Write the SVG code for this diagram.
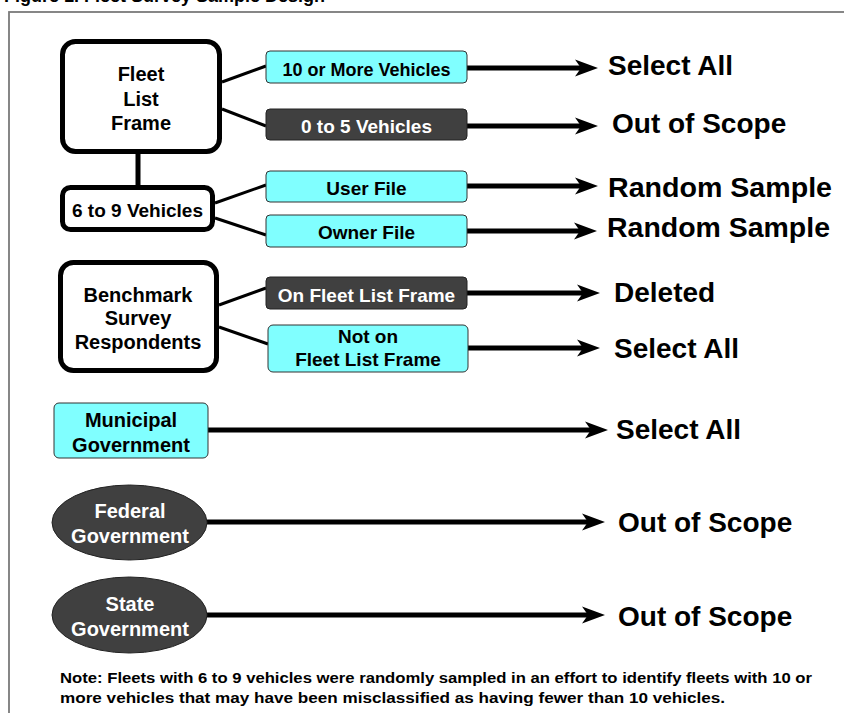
<svg xmlns="http://www.w3.org/2000/svg" width="844" height="713" viewBox="0 0 844 713">
<style>
text{font-family:"Liberation Sans",Arial,Helvetica,sans-serif;font-weight:bold;}
.main{fill:#fff;stroke:#000;stroke-width:5;}
.cyan{fill:#80ffff;stroke:#333;stroke-width:1;}
.dark{fill:#404040;stroke:#222;stroke-width:1;}
.t20{font-size:20px;text-anchor:middle;fill:#000;}
.t19{font-size:19px;text-anchor:middle;fill:#000;}
.w19{font-size:19px;text-anchor:middle;fill:#fff;}
.w20{font-size:20px;text-anchor:middle;fill:#fff;}
.res{font-size:28px;fill:#000;}
.link{stroke:#000;stroke-width:3;fill:none;}
.arr{stroke:#000;stroke-width:5;fill:none;marker-end:url(#ah);}
.note{font-size:14px;fill:#000;}
</style>
<defs>
<marker id="ah" markerUnits="userSpaceOnUse" markerWidth="30" markerHeight="20" viewBox="-1 -10 30 20" refX="6" refY="0" orient="auto" overflow="visible">
<path d="M0,-8.5 L23,0 L0,8.5 L6,0 Z" fill="#000"/>
</marker>
</defs>
<rect width="844" height="713" fill="#fff"/>
<text x="4" y="2" style="font-size:18px;fill:#000">Figure 1. Fleet Survey Sample Design</text>
<rect x="9" y="12" width="900" height="800" fill="none" stroke="#7a7a7a" stroke-width="1.8"/>

<g id="connectors">
<line class="link" x1="138" y1="154" x2="138" y2="186" style="stroke-width:5"/>
<line class="link" x1="222" y1="82" x2="266" y2="66"/>
<line class="link" x1="222" y1="109" x2="266" y2="126"/>
<line class="link" x1="215" y1="203" x2="266" y2="185"/>
<line class="link" x1="215" y1="218" x2="266" y2="235"/>
<line class="link" x1="219" y1="305" x2="266" y2="288"/>
<line class="link" x1="219" y1="327" x2="268" y2="344"/>
<line class="arr" x1="467" y1="68" x2="581" y2="68"/>
<line class="arr" x1="467" y1="126" x2="581" y2="126"/>
<line class="arr" x1="467" y1="186" x2="581" y2="186"/>
<line class="arr" x1="467" y1="231" x2="580" y2="231"/>
<line class="arr" x1="467" y1="293" x2="583" y2="293"/>
<line class="arr" x1="468" y1="348" x2="583" y2="348"/>
<line class="arr" x1="208" y1="430" x2="591" y2="430"/>
<line class="arr" x1="207" y1="522" x2="588" y2="522"/>
<line class="arr" x1="207" y1="615" x2="588" y2="615"/>
</g>

<g id="fleet-list-frame">
<rect class="main" x="62.5" y="41.5" width="157" height="110" rx="13"/>
<text class="t20" x="141" y="81">Fleet</text>
<text class="t20" x="141" y="106">List</text>
<text class="t20" x="141" y="130">Frame</text>
</g>
<g id="six-to-nine">
<rect class="main" x="62.5" y="187.5" width="150" height="42" rx="8"/>
<text class="t19" x="137.5" y="217">6 to 9 Vehicles</text>
</g>
<g id="ten-or-more">
<rect class="cyan" x="266" y="51" width="201" height="32" rx="4"/>
<text class="t19" x="366.5" y="76" style="font-size:18px">10 or More Vehicles</text>
</g>
<g id="zero-to-five">
<rect class="dark" x="266" y="109" width="201" height="31" rx="4"/>
<text class="w19" x="366.5" y="133">0 to 5 Vehicles</text>
</g>
<g id="user-file">
<rect class="cyan" x="266" y="171" width="201" height="31" rx="4"/>
<text class="t19" x="366.5" y="195">User File</text>
</g>
<g id="owner-file">
<rect class="cyan" x="266" y="215" width="201" height="32" rx="4"/>
<text class="t19" x="366.5" y="239">Owner File</text>
</g>
<g id="benchmark">
<rect class="main" x="60.5" y="262.5" width="156" height="108" rx="13"/>
<text class="t20" x="138" y="302">Benchmark</text>
<text class="t20" x="138" y="325">Survey</text>
<text class="t20" x="138" y="349">Respondents</text>
</g>
<g id="on-frame">
<rect class="dark" x="266" y="277" width="201" height="32" rx="4"/>
<text class="w19" x="366.5" y="302">On Fleet List Frame</text>
</g>
<g id="not-on-frame">
<rect class="cyan" x="268" y="325" width="200" height="47" rx="5"/>
<text class="t19" x="368" y="343">Not on</text>
<text class="t19" x="368" y="366">Fleet List Frame</text>
</g>
<g id="municipal">
<rect class="cyan" x="54" y="403" width="154" height="55" rx="5"/>
<text class="t20" x="131" y="427">Municipal</text>
<text class="t20" x="131" y="452">Government</text>
</g>
<g id="federal">
<ellipse class="dark" cx="129.5" cy="522.5" rx="77.5" ry="37.5"/>
<text class="w20" x="130" y="518">Federal</text>
<text class="w20" x="130" y="543">Government</text>
</g>
<g id="state">
<ellipse class="dark" cx="129.5" cy="615" rx="77.5" ry="38"/>
<text class="w20" x="130" y="611">State</text>
<text class="w20" x="130" y="636">Government</text>
</g>

<g id="results">
<text class="res" x="608" y="75">Select All</text>
<text class="res" x="612" y="133">Out of Scope</text>
<text class="res" x="608" y="197" textLength="224" lengthAdjust="spacingAndGlyphs">Random Sample</text>
<text class="res" x="607" y="237" textLength="223" lengthAdjust="spacingAndGlyphs">Random Sample</text>
<text class="res" x="614" y="302">Deleted</text>
<text class="res" x="614" y="358">Select All</text>
<text class="res" x="616" y="439">Select All</text>
<text class="res" x="618" y="532">Out of Scope</text>
<text class="res" x="618" y="626">Out of Scope</text>
</g>

<g id="note">
<text class="note" x="60" y="683" textLength="752" lengthAdjust="spacingAndGlyphs">Note:  Fleets with 6 to 9 vehicles were randomly sampled in an effort to identify fleets with 10 or</text>
<text class="note" x="60" y="703" textLength="665" lengthAdjust="spacingAndGlyphs">more vehicles that may have been misclassified as having fewer than 10 vehicles.</text>
</g>
</svg>
